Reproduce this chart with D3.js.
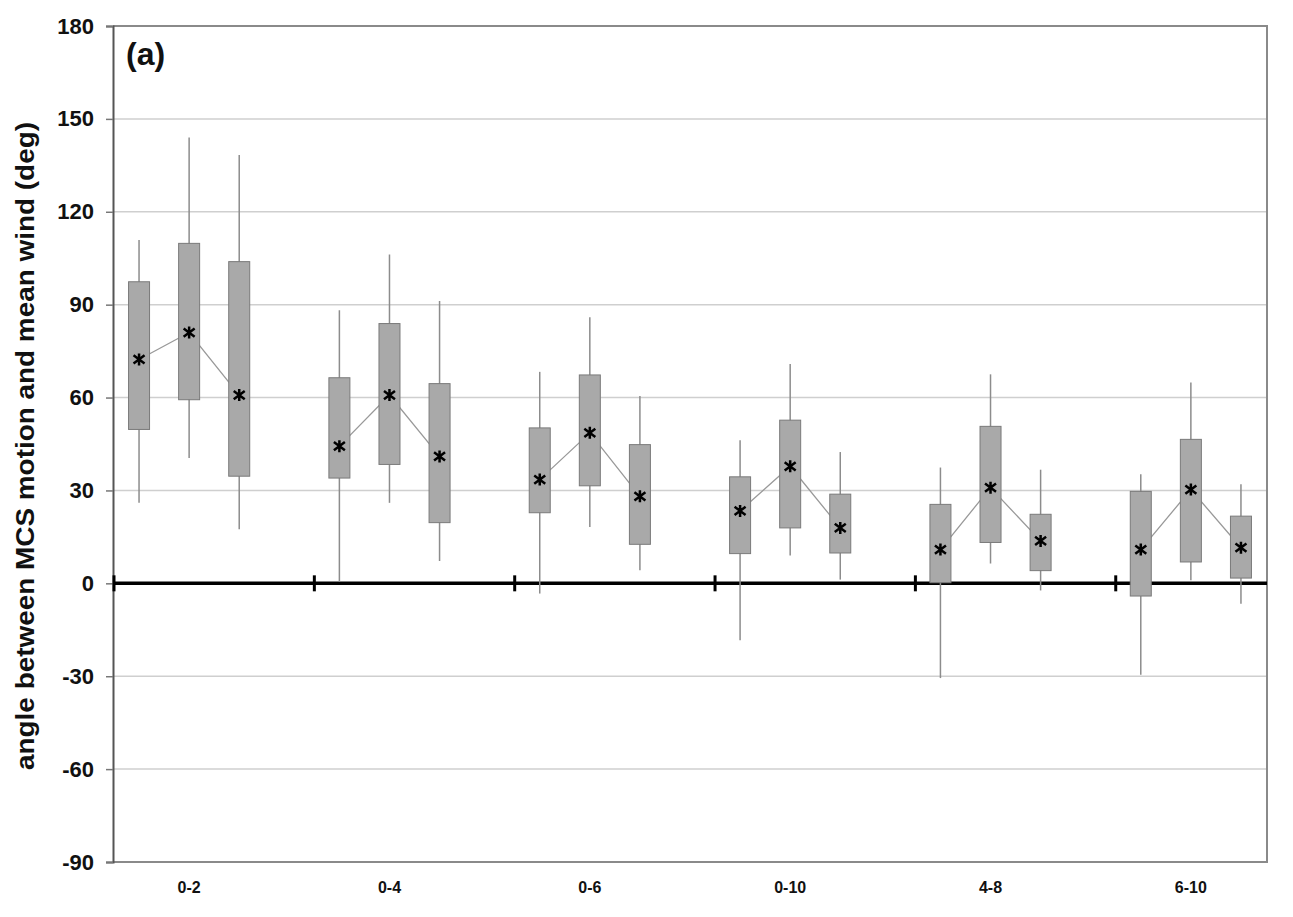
<!DOCTYPE html>
<html>
<head>
<meta charset="utf-8">
<script src="https://cdn.jsdelivr.net/npm/d3@7"></script>
<style>
html, body { margin: 0; padding: 0; background: #fff; }
svg { display: block; font-family: "Liberation Sans", Arial, sans-serif; }
</style>
</head>
<body>
<svg id="chart" width="1293" height="917"></svg>
<script>
// ---- data ----
const categories = ["0-2", "0-4", "0-6", "0-10", "4-8", "6-10"];
const yTicks = [-90, -60, -30, 0, 30, 60, 90, 120, 150, 180];
// three boxes per category, in order
const whiskerHigh = [110.9, 144.0, 138.3,  88.2, 106.2, 91.2,  68.3, 85.9, 60.5,  46.2, 70.8, 42.4,  37.4, 67.5, 36.7,  35.2, 64.9, 32.0];
const upperQuart  = [ 97.4, 109.8, 103.9,  66.4,  83.9, 64.5,  50.2, 67.3, 44.8,  34.4, 52.7, 28.8,  25.5, 50.7, 22.3,  29.7, 46.5, 21.7];
const medianVal   = [ 72.3,  81.0,  60.8,  44.3,  60.8, 41.0,  33.5, 48.6, 28.1,  23.4, 37.8, 17.9,  10.9, 30.9, 13.7,  10.9, 30.3, 11.5];
const lowerQuart  = [ 49.7,  59.3,  34.6,  34.0,  38.4, 19.6,  22.8, 31.5, 12.6,   9.6, 17.9,  9.8,   0.2, 13.2,  4.1,  -4.1,  6.9,  1.7];
const whiskerLow  = [ 26.0,  40.5,  17.5,   0.4,  26.0,  7.2,  -3.3, 18.2,  4.2, -18.4,  9.0,  1.2, -30.6,  6.4, -2.3, -29.5,  1.0, -6.6];
const panelLabel = "(a)";
const yTitle = "angle between MCS motion and mean wind (deg)";

// ---- layout ----
const L = 113, R = 1267, T = 26, B = 862;
const svg = d3.select("#chart");
const y = d3.scaleLinear().domain([-90, 180]).range([B, T]);
const x = d3.scaleLinear().domain([-0.02, 23.02]).range([L, R]);
const boxW = 21;

const boxes = whiskerHigh.map((h, i) => ({
  g: Math.floor(i / 3), j: i % 3,
  slot: Math.floor(i / 3) * 4 + (i % 3) + 0.5,
  hi: h, q3: upperQuart[i], med: medianVal[i], q1: lowerQuart[i], lo: whiskerLow[i]
}));

// gridlines
svg.append("g").selectAll("line")
  .data(yTicks.filter(v => v !== 0 && v !== -90 && v !== 180))
  .join("line")
  .attr("x1", L).attr("x2", R)
  .attr("y1", d => y(d)).attr("y2", d => y(d))
  .attr("stroke", "#cfcfcf").attr("stroke-width", 1.5);

// plot border (top/right/bottom)
svg.append("path")
  .attr("d", `M${L},${T}H${R}V${B}H${L}`)
  .attr("fill", "none").attr("stroke", "#8a8a8a").attr("stroke-width", 2);

// y axis
const yAxis = d3.axisLeft(y).tickValues(yTicks).tickSize(7).tickPadding(12).tickFormat(d => String(d));
const yg = svg.append("g").attr("transform", `translate(${L},0)`).call(yAxis);
yg.select(".domain").attr("stroke", "#555").attr("stroke-width", 2);
yg.selectAll(".tick line").attr("stroke", "#777").attr("stroke-width", 1.5);
yg.selectAll(".tick text")
  .attr("font-size", 22).attr("font-weight", "bold").attr("fill", "#111")
  .attr("font-family", "Liberation Sans, Arial, sans-serif");

// y title
svg.append("text")
  .attr("transform", `translate(34,446) rotate(-90)`)
  .attr("text-anchor", "middle")
  .attr("font-size", 25).attr("font-weight", "bold").attr("fill", "#111")
  .attr("textLength", 648).attr("lengthAdjust", "spacingAndGlyphs")
  .text(yTitle);

// zero line with group separators
svg.append("line")
  .attr("x1", L).attr("x2", R).attr("y1", y(0)).attr("y2", y(0))
  .attr("stroke", "#000").attr("stroke-width", 3.5);
svg.append("g").selectAll("line")
  .data(d3.range(categories.length).map(g => g * 4))
  .join("line")
  .attr("x1", d => x(d)).attr("x2", d => x(d))
  .attr("y1", y(0) - 8).attr("y2", y(0) + 8)
  .attr("stroke", "#000").attr("stroke-width", 3);

// category labels
svg.append("g").selectAll("text")
  .data(categories)
  .join("text")
  .attr("x", (d, i) => x(i * 4 + 1.5))
  .attr("y", 893)
  .attr("text-anchor", "middle")
  .attr("font-size", 16).attr("font-weight", "bold").attr("fill", "#111")
  .text(d => d);

// whiskers
svg.append("g").selectAll("line")
  .data(boxes)
  .join("line")
  .attr("x1", d => x(d.slot)).attr("x2", d => x(d.slot))
  .attr("y1", d => y(d.hi)).attr("y2", d => y(d.lo))
  .attr("stroke", "#8c8c8c").attr("stroke-width", 1.5);

// median connectors
const line = d3.line().x(d => x(d.slot)).y(d => y(d.med));
svg.append("g").selectAll("path")
  .data(d3.groups(boxes, d => d.g).map(g => g[1]))
  .join("path")
  .attr("d", line)
  .attr("fill", "none").attr("stroke", "#999").attr("stroke-width", 1.3);

// boxes
svg.append("g").selectAll("rect")
  .data(boxes)
  .join("rect")
  .attr("x", d => x(d.slot) - boxW / 2)
  .attr("width", boxW)
  .attr("y", d => y(d.q3))
  .attr("height", d => y(d.q1) - y(d.q3))
  .attr("fill", "#a9a9a9").attr("stroke", "#7a7a7a").attr("stroke-width", 1);

// asterisk markers
function star(cx, cy) {
  const p = d3.path();
  const a = 5.5, b = 6;
  p.moveTo(cx - a, cy - a * 0.75); p.lineTo(cx + a, cy + a * 0.75);
  p.moveTo(cx - a, cy + a * 0.75); p.lineTo(cx + a, cy - a * 0.75);
  p.moveTo(cx, cy - b); p.lineTo(cx, cy + b);
  return p.toString();
}
svg.append("g").selectAll("path")
  .data(boxes)
  .join("path")
  .attr("d", d => star(x(d.slot), y(d.med)))
  .attr("stroke", "#000").attr("stroke-width", 2.5).attr("fill", "none");

// panel label
svg.append("text")
  .attr("x", 126).attr("y", 65)
  .attr("font-size", 32).attr("font-weight", "bold").attr("fill", "#111")
  .text(panelLabel);
</script>
</body>
</html>
